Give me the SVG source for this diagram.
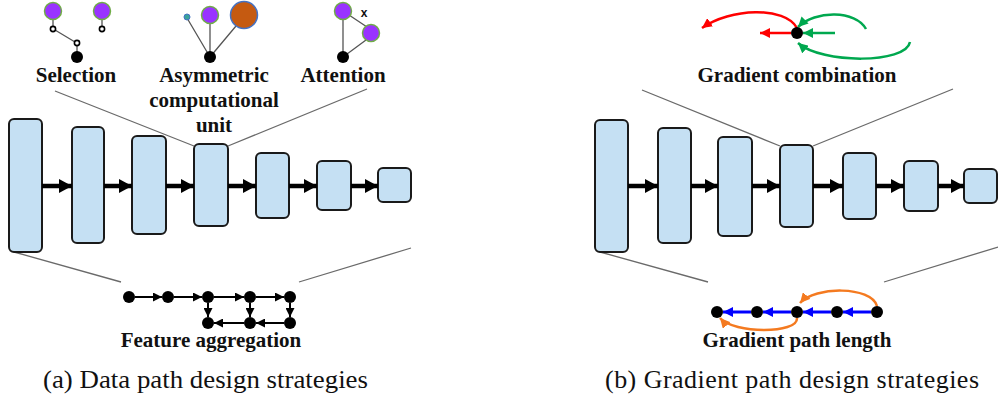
<svg xmlns="http://www.w3.org/2000/svg" width="998" height="398" viewBox="0 0 998 398">
<style>
.blk{fill:#c5e0f3;stroke:#1a1a1a;stroke-width:2}
.gl{stroke:#6a6a6a;stroke-width:1.3;fill:none}
.ba{stroke:#000;stroke-width:4.5;fill:none;marker-end:url(#big)}
.sa{stroke:#000;stroke-width:2;fill:none;marker-end:url(#sk)}
.lbl{font-family:'Liberation Serif','Times New Roman',serif;font-weight:bold;font-size:21px;fill:#111;text-anchor:middle}
.cap{font-family:'Liberation Serif','Times New Roman',serif;font-size:26px;fill:#111}
.pur{fill:#9933ff;stroke:#70ad47;stroke-width:1.5}
.dot{fill:#000}
.oc{fill:#fff;stroke:#000;stroke-width:1.6}
.ln{stroke:#555;stroke-width:1.3;fill:none}
</style>
<defs>
<marker id="big" markerUnits="userSpaceOnUse" markerWidth="13" markerHeight="14" refX="13" refY="7" orient="auto"><path d="M0,0 L13,7 L0,14 z" fill="#000"/></marker>
<marker id="sk" markerUnits="userSpaceOnUse" markerWidth="9" markerHeight="9" refX="9" refY="4.5" orient="auto"><path d="M0,0 L9,4.5 L0,9 z" fill="#000"/></marker>
<marker id="rd" markerUnits="userSpaceOnUse" markerWidth="10" markerHeight="10" refX="10" refY="5" orient="auto"><path d="M0,0 L10,5 L0,10 z" fill="#ff0000"/></marker>
<marker id="gr" markerUnits="userSpaceOnUse" markerWidth="10" markerHeight="10" refX="10" refY="5" orient="auto"><path d="M0,0 L10,5 L0,10 z" fill="#00a84f"/></marker>
<marker id="bl" markerUnits="userSpaceOnUse" markerWidth="10" markerHeight="10" refX="10" refY="5" orient="auto"><path d="M0,0 L10,5 L0,10 z" fill="#0000ff"/></marker>
<marker id="or" markerUnits="userSpaceOnUse" markerWidth="10" markerHeight="10" refX="10" refY="5" orient="auto"><path d="M0,0 L10,5 L0,10 z" fill="#f47a20"/></marker>
</defs>

<g id="zoom-lines">
<path class="gl" d="M55,91 L194,146 M367,89 L228,146 M14,252 L121,282 M299,282 L411,248"/>
<path class="gl" d="M642,90 L780,146 M953,89 L813,146 M600,252 L708,282 M884,282 L998,247"/>
</g>

<g id="panel-a-blocks">
<rect id="a1" class="blk" x="9" y="119" width="33" height="133" rx="5"/>
<rect id="a2" class="blk" x="72" y="127" width="32" height="116" rx="5"/>
<rect id="a3" class="blk" x="132" y="136" width="34" height="98" rx="5"/>
<rect id="a4" class="blk" x="194" y="144" width="34" height="82" rx="5"/>
<rect id="a5" class="blk" x="256" y="153" width="33" height="65" rx="5"/>
<rect id="a6" class="blk" x="317" y="161" width="34" height="49" rx="5"/>
<rect id="a7" class="blk" x="378" y="168" width="33" height="34" rx="5"/>
</g>
<g id="panel-b-blocks">
<rect id="b1" class="blk" x="595" y="120" width="33" height="132" rx="5"/>
<rect id="b2" class="blk" x="658" y="128" width="33" height="115" rx="5"/>
<rect id="b3" class="blk" x="718" y="137" width="34" height="99" rx="5"/>
<rect id="b4" class="blk" x="780" y="145" width="33" height="82" rx="5"/>
<rect id="b5" class="blk" x="843" y="153" width="33" height="66" rx="5"/>
<rect id="b6" class="blk" x="904" y="161" width="34" height="50" rx="5"/>
<rect id="b7" class="blk" x="964" y="169" width="33" height="34" rx="5"/>
</g>

<g id="connectors">
<path class="ba" d="M42,186 L72,186"/>
<path class="ba" d="M104,186 L132,186"/>
<path class="ba" d="M166,186 L194,186"/>
<path class="ba" d="M228,186 L256,186"/>
<path class="ba" d="M289,186 L317,186"/>
<path class="ba" d="M351,186 L378,186"/>
<path class="ba" d="M628,186 L658,186"/>
<path class="ba" d="M691,186 L718,186"/>
<path class="ba" d="M752,186 L780,186"/>
<path class="ba" d="M813,186 L843,186"/>
<path class="ba" d="M876,186 L904,186"/>
<path class="ba" d="M938,186 L964,186"/>
</g>

<g id="selection">
<path class="ln" d="M53,20 L53,27 M55,30 L75,42 M77,45 L77,52 M102,20 L102,27"/>
<circle class="pur" cx="53" cy="11" r="8.5"/>
<circle class="pur" cx="102" cy="11" r="8.5"/>
<circle class="oc" cx="53" cy="29" r="2.6"/>
<circle class="oc" cx="77" cy="43" r="2.6"/>
<circle class="oc" cx="102" cy="29" r="2.6"/>
<circle class="dot" cx="77" cy="57" r="6"/>
<text class="lbl" x="76" y="82">Selection</text>
</g>

<g id="asymmetric">
<path class="ln" d="M210,57 L187,18 M210,57 L210,22 M210,57 L236,26"/>
<circle cx="187" cy="17" r="3" fill="#3aa39a" stroke="#4472c4" stroke-width="1"/>
<circle class="pur" cx="210" cy="15" r="8.5"/>
<circle cx="244" cy="15" r="13.5" fill="#c55a11" stroke="#4472c4" stroke-width="1.5"/>
<circle class="dot" cx="210" cy="57" r="6"/>
<text class="lbl" x="214" y="82">Asymmetric</text>
<text class="lbl" x="214" y="107">computational</text>
<text class="lbl" x="214" y="132">unit</text>
</g>

<g id="attention">
<path class="ln" d="M343,57 L343,20 M343,57 L366,40 M349,15 L367,27"/>
<circle class="pur" cx="343" cy="11" r="8.5"/>
<circle class="pur" cx="371" cy="33" r="8.5"/>
<circle class="dot" cx="343" cy="57" r="6"/>
<text x="364" y="17" font-family="'Liberation Sans', Arial, sans-serif" font-size="12" font-weight="bold" text-anchor="middle" fill="#111">x</text>
<text class="lbl" x="343" y="82">Attention</text>
</g>

<g id="feature-aggregation">
<path class="sa" d="M135,297 L162,297"/>
<path class="sa" d="M174,297 L202,297"/>
<path class="sa" d="M214,297 L244,297"/>
<path class="sa" d="M256,297 L284,297"/>
<path class="sa" d="M208,303 L208,317"/>
<path class="sa" d="M250,303 L250,317"/>
<path class="sa" d="M290,303 L290,317"/>
<path class="sa" d="M284,323 L256,323"/>
<path class="sa" d="M244,323 L214,323"/>
<circle class="dot" cx="129" cy="297" r="6"/>
<circle class="dot" cx="168" cy="297" r="6"/>
<circle class="dot" cx="208" cy="297" r="6"/>
<circle class="dot" cx="250" cy="297" r="6"/>
<circle class="dot" cx="290" cy="297" r="6"/>
<circle class="dot" cx="208" cy="323" r="6"/>
<circle class="dot" cx="250" cy="323" r="6"/>
<circle class="dot" cx="290" cy="323" r="6"/>
<text class="lbl" x="211" y="347">Feature aggregation</text>
</g>

<g id="gradient-combination">
<path d="M797,28 C785,6 730,8 702,28" stroke="#ff0000" stroke-width="2.5" fill="none" marker-end="url(#rd)"/>
<path d="M791,33 L760,33" stroke="#ff0000" stroke-width="2.5" fill="none" marker-end="url(#rd)"/>
<path d="M835,33 L803,33" stroke="#00a84f" stroke-width="2.5" fill="none" marker-end="url(#gr)"/>
<path d="M866,29 C856,10 815,10 798,27" stroke="#00a84f" stroke-width="2.5" fill="none" marker-end="url(#gr)"/>
<path d="M910,42 C906,64 822,64 798,43" stroke="#00a84f" stroke-width="2.5" fill="none" marker-end="url(#gr)"/>
<circle class="dot" cx="797" cy="33" r="6"/>
<text class="lbl" x="797" y="82">Gradient combination</text>
</g>

<g id="gradient-path-length">
<path d="M871,312 L843,312" stroke="#0000ff" stroke-width="3" fill="none" marker-end="url(#bl)"/>
<path d="M831,312 L803,312" stroke="#0000ff" stroke-width="3" fill="none" marker-end="url(#bl)"/>
<path d="M791,312 L763,312" stroke="#0000ff" stroke-width="3" fill="none" marker-end="url(#bl)"/>
<path d="M751,312 L723,312" stroke="#0000ff" stroke-width="3" fill="none" marker-end="url(#bl)"/>
<path d="M877,306 C871,286 815,286 800,303" stroke="#f47a20" stroke-width="2.5" fill="none" marker-end="url(#or)"/>
<path d="M797,318 C798,334 734,334 720,318" stroke="#f47a20" stroke-width="2.5" fill="none" marker-end="url(#or)"/>
<circle class="dot" cx="717" cy="312" r="6"/>
<circle class="dot" cx="757" cy="312" r="6"/>
<circle class="dot" cx="797" cy="312" r="6"/>
<circle class="dot" cx="837" cy="312" r="6"/>
<circle class="dot" cx="877" cy="312" r="6"/>
<text class="lbl" x="797" y="347">Gradient path length</text>
</g>

<g id="captions">
<text class="cap" x="43" y="388" textLength="325" lengthAdjust="spacingAndGlyphs">(a) Data path design strategies</text>
<text class="cap" x="605" y="388" textLength="374" lengthAdjust="spacing">(b) Gradient path design strategies</text>
</g>
</svg>
